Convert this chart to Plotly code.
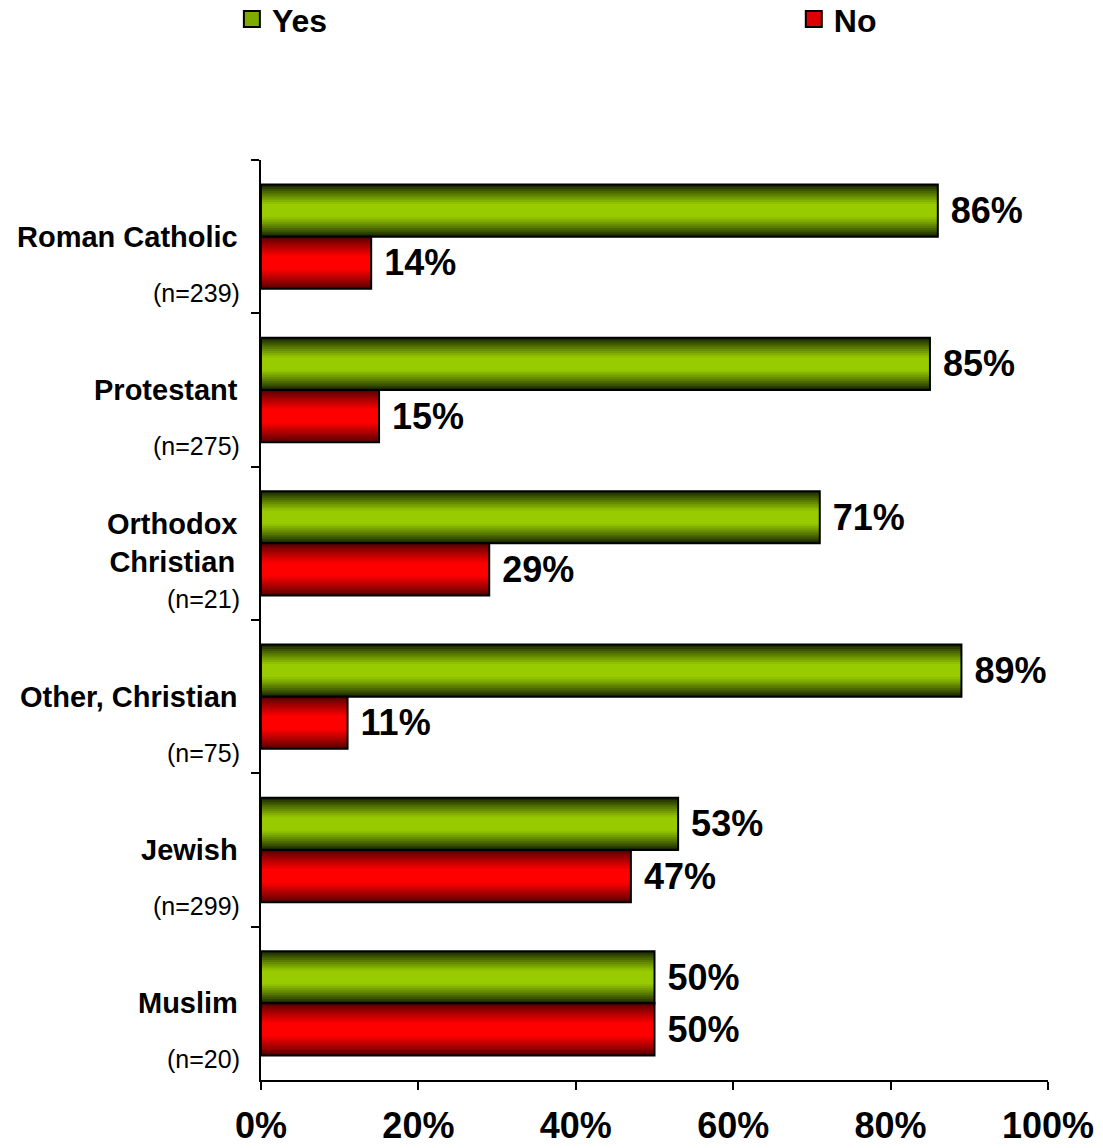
import plotly.graph_objects as go

categories = ["Roman Catholic", "Protestant", "Orthodox Christian", "Other, Christian", "Jewish", "Muslim"]
label_text = ["Roman Catholic", "Protestant", "Orthodox<br>Christian", "Other, Christian", "Jewish", "Muslim"]
sample_sizes = [239, 275, 21, 75, 299, 20]
yes_pct = [86, 85, 71, 89, 53, 50]
no_pct = [14, 15, 29, 11, 47, 50]
x_ticks = [0, 20, 40, 60, 80, 100]
x_tick_labels = ["0%", "20%", "40%", "60%", "80%", "100%"]

FONT = "Arial, Liberation Sans, sans-serif"
BAR_W = 0.34
N_LAYERS = 12

series = [
    dict(name="Yes", values=yes_pct, center=-BAR_W / 2, edge=(24, 40, 0), mid=(153, 204, 0),
         legend="legend", lx=-0.037),
    dict(name="No", values=no_pct, center=BAR_W / 2, edge=(90, 0, 0), mid=(255, 0, 0),
         legend="legend2", lx=0.677),
]

fig = go.Figure()


def mix(a, b, t):
    return "rgb(%d,%d,%d)" % tuple(round(a[i] + (b[i] - a[i]) * t) for i in range(3))


for s in series:
    # gradient layers (outer dark -> inner bright)
    for k in range(N_LAYERS):
        frac = 1 - k / N_LAYERS
        d = k / (2 * N_LAYERS)
        t = min(1.0, d / 0.36) ** 0.9
        w = BAR_W * frac
        fig.add_trace(go.Bar(
            y=categories, x=s["values"], orientation="h",
            width=w, offset=s["center"] - w / 2,
            marker=dict(color=mix(s["edge"], s["mid"], t), line=dict(width=0)),
            showlegend=False, hoverinfo="skip",
        ))
    # outline + labels
    fig.add_trace(go.Bar(
        y=categories, x=s["values"], orientation="h",
        width=BAR_W, offset=s["center"] - BAR_W / 2,
        marker=dict(color="rgba(0,0,0,0)", line=dict(color="black", width=2)),
        text=[" %d%%" % v for v in s["values"]], textposition="outside",
        constraintext="none", cliponaxis=False,
        textfont=dict(family=FONT, size=36, color="black", weight="bold"),
        showlegend=False, name=s["name"],
    ))
    # legend entry
    fig.add_trace(go.Scatter(
        x=[None], y=[None], mode="markers", name=s["name"], legend=s["legend"],
        marker=dict(symbol="square", size=18, color=mix(s["edge"], s["mid"], 0.8),
                    line=dict(color="black", width=2)),
    ))

for cat, lab, n in zip(categories, label_text, sample_sizes):
    fig.add_annotation(x=0, xref="paper", y=cat, yref="y", text="<b>%s</b>" % lab,
                       xanchor="right", yanchor="middle", xshift=-21, showarrow=False,
                       font=dict(family=FONT, size=29, color="black"))
    fig.add_annotation(x=0, xref="paper", y=cat, yref="y", text="(n=%d)" % n,
                       xanchor="right", yanchor="middle", xshift=-19, yshift=-56, showarrow=False,
                       font=dict(family=FONT, size=25, color="black"))

legend_common = dict(orientation="h", xanchor="left", y=1.153, yanchor="middle",
                     font=dict(family=FONT, size=32, color="black", weight="bold"),
                     itemsizing="trace", bgcolor="rgba(0,0,0,0)")

fig.update_layout(
    width=1103, height=1148,
    margin=dict(l=261, r=55, t=160, b=68, autoexpand=False),
    barmode="overlay",
    plot_bgcolor="white", paper_bgcolor="white",
    font=dict(family=FONT, color="black"),
    legend=dict(x=series[0]["lx"], **legend_common),
    legend2=dict(x=series[1]["lx"], **legend_common),
    xaxis=dict(range=[0, 100], tickmode="array", tickvals=x_ticks, ticktext=x_tick_labels,
               showgrid=False, zeroline=False, showline=True, linecolor="black", linewidth=2,
               ticks="outside", ticklen=8, tickwidth=2, tickcolor="black",
               ticklabelstandoff=5, automargin=False,
               tickfont=dict(family=FONT, size=36, color="black", weight="bold")),
    yaxis=dict(autorange="reversed", categoryorder="array", categoryarray=categories,
               showticklabels=False, tickson="boundaries", automargin=False,
               showgrid=False, zeroline=False, showline=True, linecolor="black", linewidth=2,
               ticks="outside", ticklen=8, tickwidth=2, tickcolor="black"),
)

fig.write_html(
    "out.html",
    config={"displayModeBar": False},
    post_script="document.body.style.margin='0';document.body.style.padding='0';"
                "document.body.style.overflow='hidden';",
)
